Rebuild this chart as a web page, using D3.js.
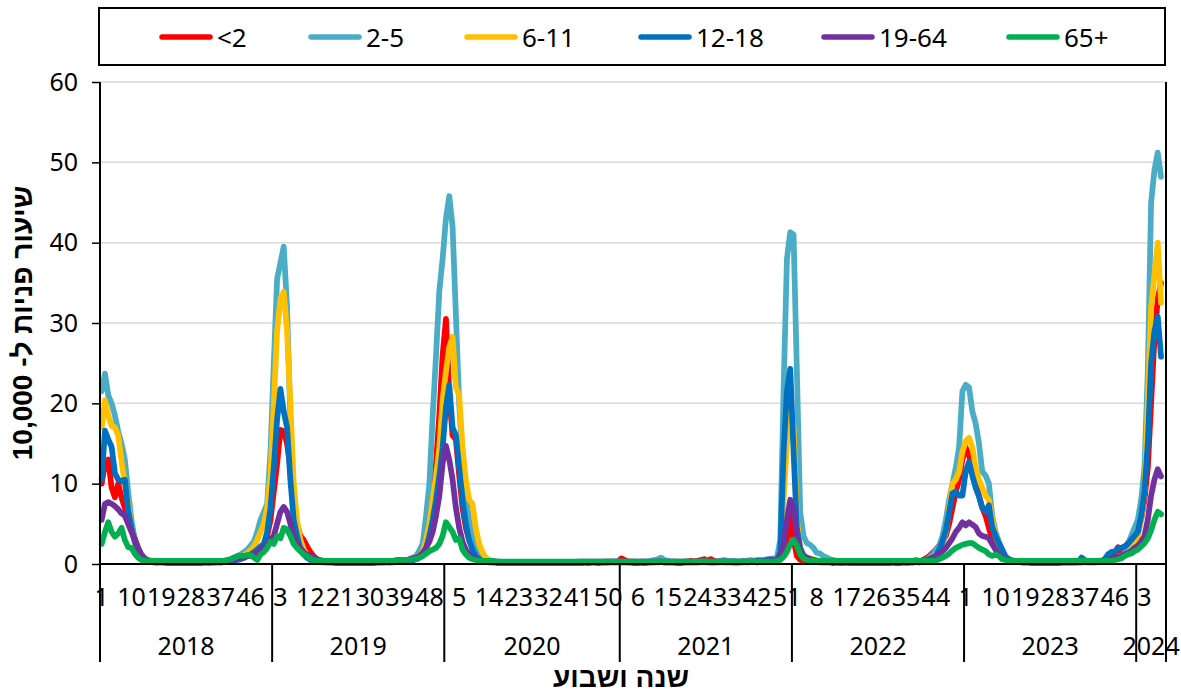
<!DOCTYPE html>
<html>
<head>
<meta charset="utf-8">
<script src="https://cdn.jsdelivr.net/npm/d3@7"></script>
<style>
    body { margin: 0; background: #fff; }
    text { font-family: "Noto Sans", "Liberation Sans", sans-serif; fill: #000; }
    .heb { font-family: "Liberation Sans", "DejaVu Sans", sans-serif;
           font-weight: bold; }
</style>
</head>
<body>
<script>
// Categories: year and week number (2024 only has 9 weeks on the axis)
var years = [2018, 2019, 2020, 2021, 2022, 2023, 2024];
var weeksInYear = [52, 52, 53, 52, 52, 52, 9];
var yTicks = [0, 10, 20, 30, 40, 50, 60];

var seriesNames = ["<2", "2-5", "6-11", "12-18", "19-64", "65+"];
var seriesColors = ["#FF0000", "#4BACC6", "#FFC000", "#0070C0", "#7030A0",
                    "#00B050"];

// Weekly visit rate per 10,000, one line per year
var ageLt2 = [].concat(
    [10, 12.5, 13, 9.5, 8.3, 10, 8.3, 7, 5.8, 4.5, 3.2, 2, 0.9, 0.5, 0.3,
     0.3, 0.2, 0.2, 0.3, 0.2, 0.2, 0.1, 0.2, 0.2, 0.1, 0.2, 0.2, 0.1, 0.2,
     0.1, 0.2, 0.2, 0.1, 0.2, 0.2, 0.3, 0.2, 0.3, 0.4,
     0.4, 0.5, 0.6, 0.7, 0.8, 1, 1.1, 1.3, 1.6, 2, 2.5, 3.5, 5.5],
    [9, 12.5, 16.7, 16.5, 15, 12, 8, 5, 3.5, 3, 2.2, 1.5, 1, 0.6,
     0.4, 0.3, 0.3, 0.2, 0.2, 0.2, 0.2, 0.1, 0.2, 0.2, 0.1, 0.2, 0.1, 0.1,
     0.2, 0.2, 0.1, 0.2, 0.2, 0.2, 0.3, 0.2, 0.3, 0.3, 0.4,
     0.4, 0.4, 0.5, 0.5, 0.6, 1, 1.8, 3.5, 5.5, 8, 12.5, 18.5, 26],
    [30.5, 21, 16, 15.5, 11, 7, 4.5, 3, 2, 1.3, 0.8, 0.5, 0.4, 0.3,
     0.2, 0.2, 0.1, 0.1, 0.1, 0.1, 0.1, 0.1, 0.1, 0.1,
     0.1, 0.2, 0.2, 0.1, 0.1, 0.1, 0.1, 0.1, 0.2, 0.1,
     0.1, 0.2, 0.2, 0.1, 0.1, 0.1, 0.2, 0.2, 0.1, 0.2,
     0.2, 0.1, 0.2, 0.2, 0.3, 0.2, 0.3, 0.2, 0.3],
    [0.7, 0.5, 0.3, 0.3, 0.2, 0.2, 0.3, 0.2, 0.2, 0.2,
     0.3, 0.2, 0.3, 0.2, 0.2, 0.2, 0.3, 0.2, 0.2, 0.3,
     0.3, 0.4, 0.3, 0.4, 0.5, 0.6, 0.4, 0.6, 0.4, 0.3,
     0.3, 0.2, 0.2, 0.3, 0.2, 0.2, 0.3, 0.3, 0.2, 0.3,
     0.3, 0.2, 0.3, 0.3, 0.4, 0.4, 0.4,
     0.5, 1, 1.5, 3, 6.3],
    [3, 1, 0.5, 0.4, 0.4, 0.3, 0.3, 0.3, 0.2, 0.2,
     0.2, 0.2, 0.1, 0.2, 0.1, 0.1, 0.2, 0.1, 0.1, 0.1,
     0.2, 0.1, 0.1, 0.1, 0.1, 0.2, 0.1, 0.1, 0.1, 0.2,
     0.2, 0.1, 0.2, 0.2, 0.1, 0.2, 0.2, 0.3, 0.3,
     0.5, 0.7, 1, 1.4, 1.8, 2.3, 2.8, 3.5, 5, 7, 9, 10.5, 13],
    [14.5, 13.5, 12, 10, 8.5, 7, 6, 4.5, 3, 2, 1.5, 1, 0.7, 0.5, 0.4,
     0.3, 0.3, 0.2, 0.2, 0.2, 0.1, 0.2, 0.1, 0.1, 0.1,
     0.2, 0.1, 0.1, 0.2, 0.1, 0.1, 0.2, 0.2, 0.1, 0.2,
     0.2, 0.3, 0.2, 0.3, 0.3, 0.4, 0.4, 0.5,
     0.6, 0.8, 1.2, 2.1, 1.5, 2, 2.6, 3, 3.8],
    [4.5, 5.5, 8, 12, 20, 28, 33, 35]
);

var age2to5 = [].concat(
    [21.5, 23.7, 21, 20, 18.5, 16.5, 15, 13, 9, 5.5, 3, 1.8, 0.9, 0.5, 0.4,
     0.3, 0.3, 0.2, 0.2, 0.2, 0.2, 0.2, 0.1, 0.1, 0.1,
     0.1, 0.1, 0.1, 0.1, 0.1, 0.2, 0.2, 0.2, 0.2, 0.3, 0.3, 0.3, 0.4, 0.5,
     0.6, 0.8, 1, 1.2, 1.5, 1.8, 2.3, 2.8, 4, 5.5, 6.5, 7.5, 14],
    [25, 35.5, 37.5, 39.5, 32, 18, 9, 4.5, 3, 1.8, 1.2, 0.8, 0.6, 0.5,
     0.4, 0.3, 0.3, 0.3, 0.2, 0.2, 0.2, 0.2, 0.1, 0.1,
     0.1, 0.1, 0.1, 0.1, 0.2, 0.2, 0.2, 0.2, 0.2, 0.3,
     0.3, 0.3, 0.3, 0.4, 0.4,
     0.4, 0.5, 0.6, 0.8, 1, 1.7, 2.6, 6, 10, 18.5, 26, 34, 38],
    [43, 45.8, 42, 31, 20, 13, 8.5, 5.5, 4, 2.5, 1.5, 1, 0.7, 0.5,
     0.4, 0.3, 0.2, 0.2, 0.1, 0.1, 0.1, 0.1, 0.1, 0.1,
     0.1, 0.1, 0.1, 0.1, 0.1, 0.1, 0.1, 0.1, 0.1, 0.1,
     0.1, 0.1, 0.1, 0.1, 0.1, 0.1, 0.2, 0.1, 0.1, 0.2,
     0.1, 0.2, 0.2, 0.2, 0.2, 0.3, 0.3, 0.2, 0.3],
    [0.3, 0.3, 0.2, 0.2, 0.3, 0.2, 0.2, 0.3, 0.3, 0.4,
     0.5, 0.6, 0.8, 0.5, 0.4, 0.3, 0.3, 0.2, 0.2, 0.3,
     0.2, 0.2, 0.3, 0.3, 0.2, 0.3, 0.3, 0.2, 0.2, 0.3,
     0.4, 0.5, 0.4, 0.3, 0.4, 0.3, 0.3, 0.4, 0.4, 0.5,
     0.4, 0.5, 0.5, 0.5, 0.6, 0.6, 0.7,
     0.8, 3, 22, 38, 41.3],
    [41, 24, 6.5, 3.5, 2.6, 2.4, 2, 1.4, 1.3, 1, 0.8, 0.6, 0.5,
     0.4, 0.4, 0.3, 0.3, 0.3, 0.2, 0.2, 0.2, 0.2, 0.1,
     0.1, 0.1, 0.1, 0.2, 0.1, 0.1, 0.1, 0.2, 0.2, 0.2,
     0.2, 0.2, 0.3, 0.3, 0.3, 0.3,
     0.4, 0.5, 0.8, 1.2, 1.8, 2.3, 3.5, 5.5, 8, 10, 12, 14.5, 21.5],
    [22.3, 22, 19, 17.5, 15, 11.5, 11, 10, 6, 4, 2.8, 1.8, 1, 0.6, 0.5,
     0.4, 0.3, 0.3, 0.2, 0.2, 0.2, 0.1, 0.1, 0.1, 0.1,
     0.1, 0.1, 0.2, 0.1, 0.1, 0.2, 0.2, 0.2, 0.3, 0.3,
     0.5, 0.4, 0.3, 0.3, 0.2, 0.3, 0.3, 0.3,
     0.4, 0.5, 0.6, 0.8, 1, 1.3, 2.5, 3.5, 4.5],
    [5.5, 8, 12, 24, 45, 49, 51.2, 48.2]
);

var age6to11 = [].concat(
    [17, 20.4, 18.5, 17.2, 17, 16, 12.8, 10, 7.5, 4.6, 2.5, 1.3, 0.7, 0.4,
     0.3,
     0.3, 0.2, 0.2, 0.2, 0.1, 0.1, 0.1, 0.1, 0.1, 0.1,
     0.1, 0.1, 0.1, 0.1, 0.1, 0.1, 0.1, 0.2, 0.2, 0.2, 0.2, 0.2, 0.3, 0.3,
     0.4, 0.5, 0.7, 0.9, 1.1, 1.4, 1.7, 2.2, 3, 4, 5, 7, 11],
    [20, 29, 33, 33.9, 29, 20, 10, 5.5, 3, 1.8, 1.2, 0.8, 0.5, 0.4,
     0.3, 0.3, 0.2, 0.2, 0.2, 0.1, 0.1, 0.1, 0.1, 0.1,
     0.1, 0.1, 0.1, 0.1, 0.1, 0.1, 0.1, 0.2, 0.2, 0.2,
     0.2, 0.2, 0.3, 0.3, 0.3,
     0.3, 0.4, 0.5, 0.6, 0.8, 1, 1.5, 3, 5, 8, 11, 14.5, 20.5],
    [24, 27, 28.3, 22, 21, 14.5, 10.5, 8, 7.5, 4.5, 2.5, 1.5, 0.8, 0.5,
     0.3, 0.2, 0.2, 0.1, 0.1, 0.1, 0.1, 0.1, 0.1, 0.1,
     0.1, 0.1, 0.1, 0.1, 0.1, 0.1, 0.1, 0.1, 0.1, 0.1,
     0.1, 0.1, 0.1, 0.1, 0.1, 0.1, 0.1, 0.1, 0.1, 0.1,
     0.1, 0.1, 0.1, 0.2, 0.1, 0.2, 0.2, 0.2, 0.2],
    [0.2, 0.2, 0.2, 0.1, 0.1, 0.2, 0.1, 0.1, 0.2, 0.2,
     0.2, 0.3, 0.3, 0.2, 0.2, 0.2, 0.1, 0.1, 0.2, 0.2,
     0.2, 0.2, 0.2, 0.2, 0.3, 0.3, 0.3, 0.2, 0.2, 0.2,
     0.2, 0.3, 0.3, 0.2, 0.2, 0.2, 0.2, 0.2, 0.3, 0.3,
     0.3, 0.3, 0.3, 0.4, 0.4, 0.5, 0.5,
     0.6, 1.2, 8, 15, 19.5],
    [17, 5.5, 2, 1.2, 0.8, 0.7, 0.6, 0.5, 0.4, 0.4, 0.3, 0.3, 0.3,
     0.2, 0.2, 0.2, 0.2, 0.1, 0.1, 0.1, 0.1, 0.1, 0.1,
     0.1, 0.1, 0.1, 0.1, 0.1, 0.1, 0.1, 0.1, 0.1, 0.1,
     0.1, 0.2, 0.2, 0.2, 0.2, 0.2,
     0.3, 0.4, 0.6, 0.8, 1.1, 1.5, 2.5, 4, 7, 10, 10.5, 11.5, 14],
    [15.3, 15.7, 14.5, 12, 10.5, 9.5, 8.5, 8, 5.5, 3.5, 2.5, 1.5, 1, 0.6,
     0.4,
     0.3, 0.3, 0.2, 0.2, 0.2, 0.1, 0.1, 0.1, 0.1, 0.1,
     0.1, 0.1, 0.1, 0.1, 0.1, 0.1, 0.1, 0.1, 0.1, 0.2,
     0.2, 0.2, 0.2, 0.2, 0.2, 0.2, 0.3, 0.3,
     0.3, 0.4, 0.5, 0.6, 0.8, 1, 1.3, 1.8, 2.5],
    [3.5, 5.5, 9, 20, 32, 36, 40, 32.5]
);

var age12to18 = [].concat(
    [10.5, 16.6, 15.5, 14.6, 11.3, 10.5, 10.3, 10.5, 6.7, 4.5, 2.8, 1.5,
     0.7, 0.4, 0.3,
     0.3, 0.2, 0.2, 0.2, 0.2, 0.1, 0.1, 0.1, 0.1, 0.1,
     0.1, 0.1, 0.1, 0.1, 0.1, 0.1, 0.2, 0.2, 0.2, 0.2, 0.2, 0.2, 0.3, 0.3,
     0.3, 0.4, 0.5, 0.6, 0.8, 1, 1.2, 1.5, 1.8, 2.2, 2.5, 4, 7],
    [12, 18, 21.8, 19, 17, 10.5, 5.5, 3.5, 2, 1.2, 0.8, 0.5, 0.4, 0.3,
     0.3, 0.2, 0.2, 0.2, 0.2, 0.1, 0.1, 0.1, 0.1, 0.1,
     0.1, 0.1, 0.1, 0.1, 0.1, 0.1, 0.1, 0.2, 0.2, 0.2,
     0.2, 0.2, 0.2, 0.3, 0.3,
     0.3, 0.3, 0.4, 0.5, 0.6, 0.8, 1, 2, 3.5, 5.5, 8, 11, 14.5],
    [19.5, 22.3, 17, 16, 12, 8, 5, 3, 1.8, 1, 0.6, 0.4, 0.3, 0.2,
     0.2, 0.2, 0.1, 0.1, 0.1, 0.1, 0.1, 0.1, 0.1, 0.1,
     0.1, 0.1, 0.1, 0.1, 0.1, 0.1, 0.1, 0.1, 0.1, 0.1,
     0.1, 0.1, 0.1, 0.1, 0.1, 0.1, 0.1, 0.1, 0.2, 0.1,
     0.2, 0.2, 0.1, 0.2, 0.2, 0.2, 0.2, 0.3, 0.2],
    [0.2, 0.2, 0.2, 0.2, 0.1, 0.1, 0.2, 0.1, 0.2, 0.2,
     0.2, 0.3, 0.3, 0.2, 0.2, 0.2, 0.2, 0.1, 0.1, 0.2,
     0.2, 0.2, 0.2, 0.2, 0.3, 0.3, 0.2, 0.2, 0.2, 0.2,
     0.3, 0.3, 0.3, 0.2, 0.2, 0.2, 0.2, 0.3, 0.3, 0.3,
     0.3, 0.4, 0.3, 0.4, 0.5, 0.6, 0.5,
     0.5, 1.5, 14, 21.5, 24.3],
    [14, 4.5, 2, 1, 0.7, 0.6, 0.5, 0.4, 0.4, 0.3, 0.3, 0.3, 0.2,
     0.2, 0.2, 0.2, 0.2, 0.1, 0.1, 0.1, 0.1, 0.1, 0.1,
     0.1, 0.1, 0.1, 0.1, 0.1, 0.1, 0.1, 0.2, 0.1, 0.1,
     0.2, 0.2, 0.2, 0.2, 0.3, 0.2,
     0.3, 0.4, 0.6, 0.8, 1, 1.8, 2.8, 4.2, 6.5, 8.8, 9, 8.5, 8.5],
    [11.5, 12.7, 11, 9.5, 8.4, 7, 6.5, 7.3, 4.6, 3.5, 2.6, 1.8, 0.9, 0.6,
     0.4,
     0.3, 0.3, 0.2, 0.2, 0.2, 0.1, 0.1, 0.1, 0.1, 0.1,
     0.1, 0.1, 0.1, 0.1, 0.2, 0.2, 0.2, 0.2, 0.2, 0.3,
     0.8, 0.5, 0.3, 0.2, 0.3, 0.3, 0.4, 0.6,
     1.2, 1.5, 1.5, 2, 2, 2.2, 2.5, 3, 3.5],
    [4, 6, 9, 15, 25, 29, 30.8, 25.8]
);

var age19to64 = [].concat(
    [5.5, 7.5, 7.7, 7.5, 7.2, 6.8, 6.3, 6, 5, 4, 3, 2, 1.2, 0.7, 0.5,
     0.4, 0.4, 0.3, 0.3, 0.3, 0.3, 0.3, 0.3, 0.3, 0.3,
     0.3, 0.3, 0.3, 0.3, 0.3, 0.3, 0.3, 0.3, 0.3, 0.3, 0.3, 0.3, 0.4, 0.4,
     0.5, 0.6, 0.7, 0.8, 0.8, 1, 1, 1.2, 1.5, 1.8, 2, 2.5, 3],
    [3.5, 5, 6.5, 7.1, 6.5, 5, 3.5, 2.5, 2, 1.5, 1.2, 1, 0.8, 0.6,
     0.5, 0.4, 0.4, 0.3, 0.3, 0.3, 0.3, 0.3, 0.3, 0.3,
     0.3, 0.3, 0.3, 0.3, 0.3, 0.3, 0.3, 0.3, 0.3, 0.3,
     0.3, 0.3, 0.3, 0.3, 0.4,
     0.4, 0.5, 0.6, 0.7, 0.8, 1, 1.4, 2, 2.8, 4, 6, 8.5, 12.5],
    [14.7, 13, 10.5, 7, 4.5, 2.8, 1.8, 1.2, 0.9, 0.6, 0.4, 0.3, 0.3, 0.3,
     0.3, 0.3, 0.3, 0.2, 0.2, 0.2, 0.2, 0.2, 0.2, 0.2,
     0.2, 0.2, 0.2, 0.2, 0.2, 0.2, 0.2, 0.2, 0.2, 0.2,
     0.2, 0.2, 0.2, 0.2, 0.2, 0.2, 0.3, 0.3, 0.3, 0.3,
     0.3, 0.3, 0.3, 0.3, 0.3, 0.3, 0.3, 0.3, 0.3],
    [0.3, 0.3, 0.3, 0.3, 0.3, 0.3, 0.3, 0.3, 0.3, 0.3,
     0.3, 0.3, 0.3, 0.3, 0.3, 0.3, 0.3, 0.3, 0.3, 0.3,
     0.3, 0.3, 0.3, 0.3, 0.3, 0.3, 0.3, 0.3, 0.3, 0.3,
     0.3, 0.3, 0.3, 0.3, 0.3, 0.3, 0.3, 0.3, 0.3, 0.3,
     0.3, 0.3, 0.3, 0.3, 0.3, 0.4, 0.4,
     0.5, 1, 2.5, 5.5, 8],
    [7, 3.5, 1.5, 1, 0.8, 0.6, 0.5, 0.4, 0.4, 0.3, 0.3, 0.3, 0.3,
     0.3, 0.3, 0.3, 0.3, 0.3, 0.3, 0.3, 0.3, 0.3, 0.3,
     0.3, 0.3, 0.3, 0.3, 0.3, 0.3, 0.3, 0.3, 0.3, 0.3,
     0.3, 0.3, 0.3, 0.3, 0.3, 0.3,
     0.4, 0.5, 0.6, 0.8, 1, 1.3, 1.6, 2, 2.6, 3.2, 4, 4.5, 5.2],
    [4.8, 5.2, 4.9, 4.6, 3.8, 3.5, 3.4, 3.2, 2.5, 1.8, 1.2, 0.8, 0.6, 0.5,
     0.4,
     0.3, 0.3, 0.3, 0.3, 0.3, 0.3, 0.3, 0.3, 0.3, 0.3,
     0.3, 0.3, 0.3, 0.3, 0.3, 0.3, 0.3, 0.3, 0.3, 0.3,
     0.3, 0.3, 0.3, 0.3, 0.3, 0.3, 0.3, 0.4,
     0.5, 0.6, 0.7, 0.9, 1, 1.2, 1.4, 1.6, 2],
    [2.3, 2.8, 3.5, 5.5, 8.5, 10.5, 11.8, 10.9]
);

var age65plus = [].concat(
    [2.5, 4, 5.2, 4, 3.4, 3.8, 4.5, 3, 2.1, 2, 1.3, 0.8, 0.5, 0.4, 0.4,
     0.4, 0.4, 0.4, 0.4, 0.4, 0.4, 0.4, 0.4, 0.4, 0.4,
     0.4, 0.4, 0.4, 0.4, 0.4, 0.4, 0.4, 0.4, 0.4, 0.4, 0.4, 0.4, 0.4, 0.5,
     0.6, 0.8, 1, 1, 1, 1.1, 1.1, 0.8, 0.5, 1.2, 1.5, 2, 2.8],
    [2.5, 3.5, 3.2, 4.5, 4.3, 3.5, 2.5, 2, 1.6, 1.2, 1, 0.7, 0.5, 0.4,
     0.4, 0.4, 0.4, 0.4, 0.4, 0.4, 0.4, 0.4, 0.4, 0.4,
     0.4, 0.4, 0.4, 0.4, 0.4, 0.4, 0.4, 0.4, 0.4, 0.4,
     0.4, 0.4, 0.4, 0.5, 0.5,
     0.5, 0.5, 0.5, 0.6, 0.6, 0.8, 1, 1.3, 1.6, 1.8, 2, 2.5, 3.5],
    [5.2, 4.6, 4, 3, 3.2, 1.8, 1.2, 0.8, 0.6, 0.5, 0.4, 0.4, 0.4, 0.4,
     0.4, 0.3, 0.3, 0.3, 0.3, 0.3, 0.3, 0.3, 0.3, 0.3,
     0.3, 0.3, 0.3, 0.3, 0.3, 0.3, 0.3, 0.3, 0.3, 0.3,
     0.3, 0.3, 0.3, 0.3, 0.3, 0.3, 0.3, 0.3, 0.3, 0.3,
     0.3, 0.3, 0.3, 0.3, 0.3, 0.3, 0.3, 0.3, 0.3],
    [0.3, 0.3, 0.3, 0.3, 0.3, 0.3, 0.3, 0.3, 0.3, 0.3,
     0.3, 0.3, 0.3, 0.3, 0.3, 0.3, 0.3, 0.3, 0.3, 0.3,
     0.3, 0.3, 0.3, 0.3, 0.3, 0.3, 0.3, 0.3, 0.3, 0.3,
     0.3, 0.3, 0.3, 0.3, 0.3, 0.3, 0.3, 0.3, 0.3, 0.3,
     0.3, 0.3, 0.3, 0.3, 0.3, 0.3, 0.3,
     0.4, 0.5, 0.9, 1.5, 2.5],
    [3, 2.3, 1.2, 0.7, 0.5, 0.4, 0.4, 0.4, 0.4, 0.4, 0.4, 0.4, 0.4,
     0.4, 0.4, 0.4, 0.4, 0.4, 0.4, 0.4, 0.4, 0.4, 0.4,
     0.4, 0.4, 0.4, 0.4, 0.4, 0.4, 0.4, 0.4, 0.4, 0.4,
     0.4, 0.4, 0.4, 0.4, 0.5, 0.4,
     0.4, 0.4, 0.4, 0.4, 0.4, 0.6, 0.8, 1, 1.3, 1.7, 2, 2.2, 2.4],
    [2.5, 2.6, 2.6, 2.3, 2, 1.8, 1.6, 1.2, 1, 1.2, 1, 0.6, 0.5, 0.4, 0.4,
     0.4, 0.4, 0.4, 0.4, 0.4, 0.4, 0.4, 0.4, 0.4, 0.4,
     0.4, 0.4, 0.4, 0.4, 0.4, 0.4, 0.4, 0.4, 0.4, 0.4,
     0.4, 0.4, 0.4, 0.4, 0.4, 0.4, 0.4, 0.4,
     0.4, 0.4, 0.5, 0.6, 0.7, 1, 1.2, 1.3, 1.6],
    [1.8, 2.2, 2.6, 3.2, 4.2, 5.5, 6.5, 6.2]
);

var seriesValues = [ageLt2, age2to5, age6to11, age12to18, age19to64,
                    age65plus];

// Legend layout (start of each sample line)
var legendX = [162, 311, 467, 641, 824, 1009];

// Build the category list (one per week)
var cats = [];
years.forEach(function(yr, k) {
    for (var w = 1; w <= weeksInYear[k]; w++) {
        cats.push({year: yr, week: w, index: cats.length});
    }
});

// every series covers all weeks except the last empty 2024 slot
seriesValues.forEach(function(s, k) {
    if (s.length !== cats.length - 1) {
        throw new Error(seriesNames[k] + " has " + s.length + " values");
    }
});

var W = 1181, H = 692;
var plot = {left: 100, right: 1166, top: 82, bottom: 564};

var svg = d3.select("body").append("svg")
    .attr("width", W)
    .attr("height", H);

var xScale = d3.scaleBand()
    .domain(d3.range(cats.length))
    .range([plot.left, plot.right]);

var yScale = d3.scaleLinear()
    .domain([0, 60])
    .range([plot.bottom, plot.top]);

function xMid(i) { return xScale(i) + xScale.bandwidth() / 2; }

// horizontal gridlines
svg.append("g")
    .selectAll("line")
    .data(yTicks.filter(function(d) { return d > 0; }))
    .enter()
    .append("line")
    .attr("x1", plot.left)
    .attr("x2", plot.right)
    .attr("y1", function(d) { return yScale(d); })
    .attr("y2", function(d) { return yScale(d); })
    .attr("stroke", "#D9D9D9")
    .attr("stroke-width", 1.5);

// series lines, later ones on top (as Excel does)
var line = d3.line()
    .x(function(d, i) { return xMid(i); })
    .y(function(d) { return yScale(d); });

svg.append("g")
    .selectAll("path")
    .data(seriesValues)
    .enter()
    .append("path")
    .attr("d", line)
    .attr("fill", "none")
    .attr("stroke", function(d, i) { return seriesColors[i]; })
    .attr("stroke-width", 5.75)
    .attr("stroke-linejoin", "round")
    .attr("stroke-linecap", "round");

// y axis
var yAxis = d3.axisLeft(yScale)
    .tickValues(yTicks)
    .tickSize(8)
    .tickSizeOuter(0)
    .tickPadding(14);

var gy = svg.append("g")
    .attr("transform", "translate(" + plot.left + ",0)")
    .call(yAxis);
gy.select(".domain").remove();
gy.selectAll("line").attr("stroke", "#000").attr("stroke-width", 1.5);
gy.selectAll("text")
    .attr("font-size", "25px")
    .style("font-family", "'Noto Sans', sans-serif");

// axis lines: left axis continues down through the category labels
var axisLines = svg.append("g")
    .attr("stroke", "#000")
    .attr("stroke-width", 2);
axisLines.append("line")
    .attr("x1", plot.left).attr("x2", plot.left)
    .attr("y1", plot.top).attr("y2", 662);
axisLines.append("line")
    .attr("x1", plot.left).attr("x2", plot.right)
    .attr("y1", plot.bottom).attr("y2", plot.bottom);
axisLines.append("line")
    .attr("x1", plot.right).attr("x2", plot.right)
    .attr("y1", plot.top).attr("y2", 662);

// year separators
var yearStarts = cats.filter(function(c) { return c.week === 1 && c.index > 0; });
axisLines.selectAll(".sep")
    .data(yearStarts)
    .enter()
    .append("line")
    .attr("class", "sep")
    .attr("x1", function(c) { return xScale(c.index); })
    .attr("x2", function(c) { return xScale(c.index); })
    .attr("y1", plot.bottom)
    .attr("y2", 662);

// week labels, every 9th category
svg.append("g")
    .selectAll("text")
    .data(cats.filter(function(c) { return c.index % 9 === 0; }))
    .enter()
    .append("text")
    .attr("x", function(c) { return xMid(c.index); })
    .attr("y", 606)
    .attr("text-anchor", "middle")
    .attr("font-size", "25px")
    .text(function(c) { return c.week; });

// year labels centred in their group
svg.append("g")
    .selectAll("text")
    .data(years)
    .enter()
    .append("text")
    .attr("x", function(yr) {
        var group = cats.filter(function(c) { return c.year === yr; });
        var a = xScale(group[0].index);
        var b = xScale(group[group.length - 1].index) + xScale.bandwidth();
        return (a + b) / 2;
    })
    .attr("y", 655)
    .attr("text-anchor", "middle")
    .attr("font-size", "25px")
    .text(function(yr) { return yr; });

// axis titles
svg.append("text")
    .attr("class", "heb")
    .attr("transform", "translate(32," + ((plot.top + plot.bottom) / 2) +
          ") rotate(-90)")
    .attr("text-anchor", "middle")
    .attr("font-size", "28px")
    .text("שיעור פניות ל- 10,000");

svg.append("text")
    .attr("class", "heb")
    .attr("x", 621)
    .attr("y", 687)
    .attr("text-anchor", "middle")
    .attr("font-size", "28px")
    .text("שנה ושבוע");

// legend
svg.append("rect")
    .attr("x", 99)
    .attr("y", 8)
    .attr("width", 1066)
    .attr("height", 57)
    .attr("fill", "#fff")
    .attr("stroke", "#000")
    .attr("stroke-width", 2);

var legend = svg.append("g")
    .selectAll("g")
    .data(seriesNames)
    .enter()
    .append("g")
    .attr("transform", function(d, i) {
        return "translate(" + legendX[i] + ",37)";
    });
legend.append("line")
    .attr("x1", 0)
    .attr("x2", 48)
    .attr("stroke", function(d, i) { return seriesColors[i]; })
    .attr("stroke-width", 5.5)
    .attr("stroke-linecap", "round");
legend.append("text")
    .attr("x", 55)
    .attr("y", 9.5)
    .attr("font-size", "26px")
    .text(function(d) { return d; });
</script>
</body>
</html>
